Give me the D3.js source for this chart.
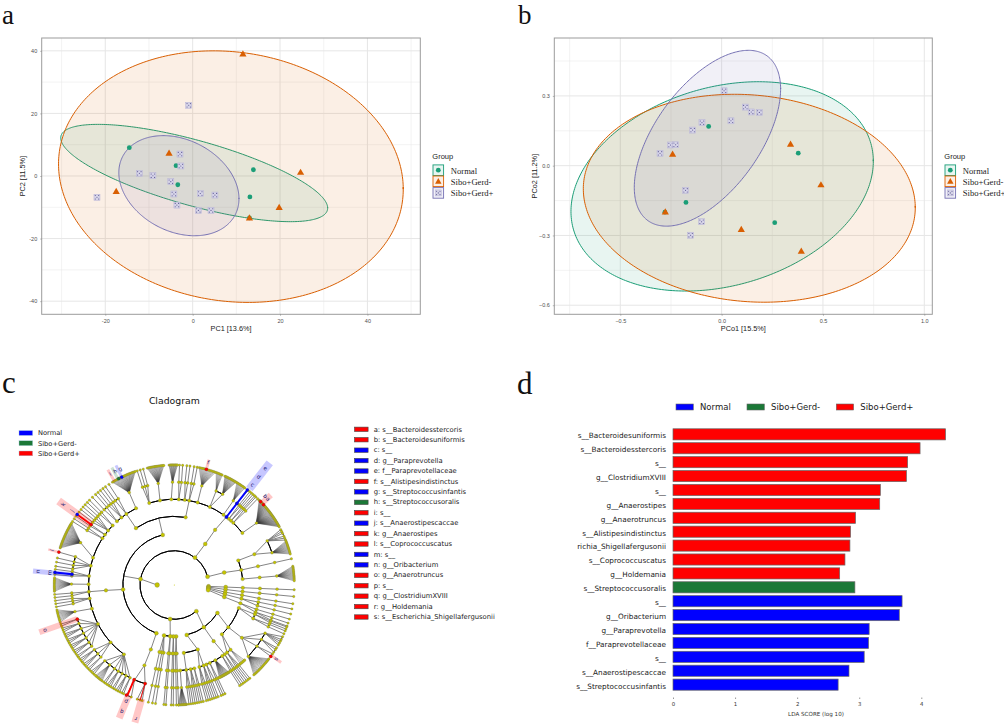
<!DOCTYPE html>
<html><head><meta charset="utf-8">
<script src="https://cdn.jsdelivr.net/npm/d3@7"></script>
<style>html,body{margin:0;padding:0;background:#fff}svg{display:block}</style>
</head><body><svg id="c" width="1004" height="725"></svg>
<script>
// ---------- data: panel a
const groups = ["Normal","Sibo+Gerd-","Sibo+Gerd+"];
const groupColors = ["#1B9E77","#D95F02","#7570B3"];
const aNormal = [[-14.5,9.05],[-3.8,3.3],[-3.4,-2.8],[13.9,2.0],[13.1,-6.7],[13.0,-13.4]];
const aGerdNeg = [[11.5,39],[-5.4,7.3],[-17.5,-4.9],[24.7,1.2],[19.8,-10],[13,-13.4]];
const aGerdPos = [[-0.9,22.6],[-2.9,7.0],[-2.7,3.2],[-12.2,0.85],[-9.1,0.1],[-5,-1.8],[-4.3,-5.75],[1.75,-5.6],[5.1,-6.1],[-3.6,-9.3],[1.3,-11],[4.2,-11],[-21.9,-6.8]];
// ellipses: centre x, centre y, half-width, half-height, correlation
const aEllipses = [[0.35,0.95,30.55,15.55,-0.72],[8.75,-0.2,39.45,40.2,-0.1],[-3.15,-3.1,13.75,16,-0.26]];
const aXDomain = [-34.55,52.1], aYDomain = [-44.2,44.1];
const aXTicks = [-20,0,20,40], aYTicks = [-40,-20,0,20,40];
const aXMinor = [-30,-10,10,30,50], aYMinor = [-30,-10,10,30];
// ---------- data: panel b
const bNormal = [[-0.064,0.169],[0.378,0.054],[-0.176,-0.158],[-0.28,-0.2],[0.262,-0.245]];
const bGerdNeg = [[0.34,0.093],[-0.242,0.05],[0.49,-0.082],[-0.278,-0.199],[0.097,-0.274],[0.393,-0.367]];
const bGerdPos = [[0.012,0.322],[0.117,0.252],[0.146,0.231],[0.186,0.229],[0.046,0.193],[-0.097,0.185],[-0.143,0.153],[-0.252,0.089],[-0.227,0.09],[-0.304,0.053],[-0.178,-0.106],[-0.099,-0.241],[-0.153,-0.299]];
const bEllipses = [[0.0025,-0.089,0.746,0.45,0.24],[0.1365,-0.14,0.819,0.447,-0.09],[-0.07,0.118,0.361,0.378,0.56]];
const bXDomain = [-0.8257,1.0395], bYDomain = [-0.639,0.549];
const bXTicks = [-0.5,0,0.5,1], bYTicks = [-0.6,-0.3,0,0.3];
const bXMinor = [-0.75,-0.25,0.25,0.75], bYMinor = [-0.45,-0.15,0.15,0.45];
// ---------- data: panel c key
const cladeKeys = ["a: s__Bacteroidesstercoris","b: s__Bacteroidesuniformis","c: s__","d: g__Paraprevotella","e: f__Paraprevotellaceae","f: s__Alistipesindistinctus","g: s__Streptococcusinfantis","h: s__Streptococcusoralis","i: s__","j: s__Anaerostipescaccae","k: g__Anaerostipes","l: s__Coprococcuscatus","m: s__","n: g__Oribacterium","o: g__Anaerotruncus","p: s__","q: g__ClostridiumXVIII","r: g__Holdemania","s: s__Escherichia_Shigellafergusonii"];
const cladeKeyGroups = [2,2,0,0,0,2,0,1,2,0,2,2,0,0,2,2,2,2,2];
const ldaColors = ["#0000FF","#1B7837","#FF0000"];
// ---------- data: panel c tree (angles in degrees clockwise from north; a number = chain out to the rim)
const n = (a,...c)=>({a,c}), f = (a0,a1,k)=>({fan:[a0,a1,k]});
const phylumFirmicutes = n(280,
  n(200.4, n(200, n(200.4, n(202.7,201,203.5), n(196.5,195.5,196.5,198)))),
  n(265, n(265.5,
    n(216, n(205.5,205,206), n(208,207,208,209), n(210.5,210,211), n(213,212,213,214), n(215.5,215,216), n(219,f(217,221,8)), n(222.5,222,223,224)),
    n(228, n(225.5,225,226), n(228,227,228,229), n(231,230,231,232)),
    n(243, n(233.5,233,234), n(236,235,236,237), n(239,238,239,240), n(242,241,242,243), n(245,244,245,246), n(248,247,248,249), n(250.6,250,251)),
    n(254, n(255,f(252,258,10))),
    n(261,259.5,261,262.5),
    n(265.5,264,265.5),
    n(270.5, n(270.5,f(267,273.5,12))),
    n(276,275,276,277.5),
    n(283,279,281,283,285.9),
    n(288.6, n(294.3,f(288,301,26))),
    n(303,302,303.5),
    n(306,305,306),
    n(309.5,307.5,309,310.5,312),
    n(314,313.5,315))),
  n(347,
    n(326, n(318,317,319), n(322,320.5,322,323.5), n(326,325,327), n(333.5, n(334,f(329,341,26)))),
    n(369.5,
      n(343,342,343.5,345),
      n(350.4, n(351,f(347,355,18))),
      n(358, n(359,f(357.5,361.5,12))),
      n(363,362.5,364), n(367,366,367.5), n(370,369.5,371),
      n(375.8, n(375.5,f(372,380,14))),
      n(384.5, n(384,f(380.5,383.5,6)), n(388,f(385,391,14))),
      n(395, n(395,f(391.5,396,9))))));
const phylumPrevotella = n(37, n(37, n(36.5,
  n(37.4, n(37.5,38)), n(39.5,39,40), n(41.5,41,42), n(43.5,42.8,44),
  n(52.6, n(53,f(45,61,42))))));
const phylumSide = n(76, n(76,
  n(69, n(69, n(64.6,62.5,63.5,64.5,66,67,68), n(71.7,f(68.5,75,14)))),
  n(77.4,77.4),
  n(85, n(85, n(85,f(81,88,14))))));
const phylumFan = [
  n(92.3,92.3),
  n(93.5, n(95, n(95.5,95.5))),
  n(95, n(98, n(98.5,99))),
  n(96.5, n(100.5, n(101.5, n(101.5,101.5), n(104,104)))),
  n(98.5, n(103.5, n(105.5, n(106.5,106.5), n(108.5,108.5,110))))];
const phylumProteo = n(140,
  n(123,
    n(109.6, n(110,110.5,111.5), n(113,112.5,114)),
    n(128, n(128, n(118,115.5,117,118,119,120), n(122,121.5,122.5,124), n(126.5,125,126.5), n(134,f(128,138.5,18)))),
    n(136, n(139,f(137,140,4)), n(142,141,142,143))),
  n(145, n(145,
    n(144,144,145),
    n(146,146,147),
    n(151.4,f(148,154,14)),
    n(155.5,155,156),
    n(158,157,158.5))),
  n(166,
    n(160, n(160,159.5,160.5,161.5), n(163,162.5,163.5,164.5)),
    n(172, n(166.5,166,167), n(169,168,169,170), n(172,171,172,173), n(176,n(176,f(174,178,12))))));
const phylumLast = n(187, n(178,178,179), n(181,180.5,181.5), n(184.5,184,185), n(191.5,189,190.5,192.5));
const kingdom = n(270, phylumFirmicutes, phylumPrevotella, phylumSide, ...phylumFan, phylumProteo, phylumLast);
const kingdomArcs = [[140,436],[92.3,98.5]];
// biomarkers: [level from, level to, angle, group, width]
const biomarkerLinks = [[5,7,37.5,0,1.9],[6,7,306,2,1.9],[6,7,276,0,1.9],[6,7,203,2,1.9],[6,7,196.5,2,0.9]];
const biomarkerNodes = [[5,37.5,0],[6,37.5,0],[7,37.5,0],[6,306,2],[7,306,0],[6,276,0],[7,276,0],[6,250.6,2],[7,285.9,2],[6,203,2],[7,203.5,2],[6,196.5,2],[7,126.5,2],[7,15.5,2],[7,46,2],[7,48,2],[7,334,0],[7,332.4,1]];
// highlight boxes: angle, r0, r1, width (px), group
const highlights = [[38,122,155,8,0],[306,103,143,8,2],[275.7,102,142,5,0],[250.7,103,143,6,2],[285.8,120,131,2.5,2],[202.5,120,144,7,2],[196,118,143,7,2],[126,120,132,3,2],[15.5,120,130,3,2],[47,120,132,6,2],[334,120,133,3,0],[332,120,133,3,1],[330,120,133,3,2]];
// highlight letters: letter, angle, radius
const highlightLetters = [["e",38,148],["d",38,137],["c",38,127],["k",306,137],["j",306,126],["n",275.7,137],["m",275.7,125],["o",250.7,137],["l",285.8,127],["p",202.5,126],["q",202.5,137],["r",196,139],["s",126,126],["f",15.5,127],["a",47.5,127],["b",45.7,127],["g",335,128],["h",332.5,128],["i",330,128]];
// ---------- data: panel d
const ldaLabels = ["s__Bacteroidesuniformis","s__Bacteroidesstercoris","s__","g__ClostridiumXVIII","s__","g__Anaerostipes","g__Anaerotruncus","s__Alistipesindistinctus","richia_Shigellafergusonii","s__Coprococcuscatus","g__Holdemania","s__Streptococcusoralis","s__","g__Oribacterium","g__Paraprevotella","f__Paraprevotellaceae","s__","s__Anaerostipescaccae","s__Streptococcusinfantis"];
const ldaScores = [4.39,3.98,3.78,3.76,3.34,3.33,2.94,2.86,2.85,2.77,2.685,2.93,3.69,3.645,3.16,3.15,3.08,2.835,2.66];
const ldaGroups = [2,2,2,2,2,2,2,2,2,2,2,1,0,0,0,0,0,0,0];
const ldaTicks = [0,1,2,3,4];

// ---------- drawing
const svg = d3.select("#c");
const SANS = "'Liberation Sans',Arial,sans-serif", SERIF = "'Liberation Serif',serif", DV = "'DejaVu Sans',sans-serif";
const letter=(t,x,y,s)=>svg.append("text").attr("x",x).attr("y",y).attr("font-family",SERIF).attr("font-size",s).attr("fill","#111").text(t);
letter("a",2,24,27); letter("b",518,24,27); letter("c",2,393,31); letter("d",517,394,31);

function ordination(o){
  const g = svg.append("g");
  const x = d3.scaleLinear(o.xd,[o.l,o.r]), y = d3.scaleLinear(o.yd,[o.b,o.t]);
  const grid=(vals,w,vert)=>g.selectAll(null).data(vals).join("line")
    .attr("x1",d=>vert?x(d):o.l).attr("x2",d=>vert?x(d):o.r).attr("y1",d=>vert?o.t:y(d)).attr("y2",d=>vert?o.b:y(d))
    .attr("stroke","#E6E6E6").attr("stroke-width",w);
  grid(o.xm,0.5,true); grid(o.ym,0.5,false); grid(o.xt,1,true); grid(o.yt,1,false);
  const ell=(e)=>{const [cx,cy,A,B,r]=e, s=Math.sqrt(1-r*r);
    return d3.line().x(t=>x(cx+A*Math.cos(t))).y(t=>y(cy+B*(r*Math.cos(t)+s*Math.sin(t))))(d3.range(0,Math.PI*2+0.02,0.02))+"Z";};
  o.ell.forEach((e,i)=>g.append("path").attr("d",ell(e)).attr("fill",groupColors[i]).attr("fill-opacity",0.1).attr("stroke",groupColors[i]).attr("stroke-width",1));
  const dots=[[-1.7,-1.7],[1.7,-1.7],[0,0],[-1.7,1.7],[1.7,1.7]];
  const mark=(sel,i,k)=>{
    if(i===0) sel.append("circle").attr("r",2.4).attr("fill",groupColors[0]);
    if(i===1) sel.append("path").attr("d",`M0,${-3.6*k}L${3.6*k},${2.6*k}L${-3.6*k},${2.6*k}Z`).attr("fill",groupColors[1]);
    if(i===2){sel.append("rect").attr("x",-3).attr("y",-3).attr("width",6).attr("height",6).attr("fill","#d6d4e8").attr("stroke","#b5b2d6").attr("stroke-width",0.5);
      sel.selectAll(null).data(dots).join("circle").attr("cx",d=>d[0]).attr("cy",d=>d[1]).attr("r",0.55).attr("fill","#5a558f");}
  };
  o.pts.forEach((arr,i)=>arr.forEach(p=>{mark(g.append("g").attr("transform",`translate(${x(p[0])},${y(p[1])})`),i,1);}));
  g.append("rect").attr("x",o.l).attr("y",o.t).attr("width",o.r-o.l).attr("height",o.b-o.t).attr("fill","none").attr("stroke","#9c9c9c").attr("stroke-width",1);
  const axX=d3.axisBottom(x).tickValues(o.xt).tickSize(1.5).tickFormat(o.fmt);
  const axY=d3.axisLeft(y).tickValues(o.yt).tickSize(1.5).tickFormat(o.fmt);
  [g.append("g").attr("transform",`translate(0,${o.b})`).call(axX),g.append("g").attr("transform",`translate(${o.l},0)`).call(axY)].forEach(a=>{
    a.select(".domain").remove(); a.selectAll("line").attr("stroke","#777").attr("stroke-width",0.5);
    a.selectAll("text").attr("font-family",SANS).attr("font-size",5.5).attr("fill","#4D4D4D");});
  g.append("text").attr("x",(o.l+o.r)/2).attr("y",o.b+17).attr("text-anchor","middle").attr("font-family",SANS).attr("font-size",7.3).attr("fill","#222").text(o.xl);
  g.append("text").attr("transform",`translate(${o.l-17},${(o.t+o.b)/2}) rotate(-90)`).attr("text-anchor","middle").attr("font-family",SANS).attr("font-size",7.3).attr("fill","#222").text(o.yl);
  const lx=o.r+12.5;
  g.append("text").attr("x",lx-0.5).attr("y",159.3).attr("font-family",SANS).attr("font-size",7.5).attr("fill","#222").text("Group");
  groups.forEach((nm,i)=>{
    const yy=170.2+i*11.6-(i?0.5:0);
    const k=g.append("g").attr("transform",`translate(${lx+5.5},${yy})`);
    k.append("rect").attr("x",-5.3).attr("y",-5.3).attr("width",10.6).attr("height",10.6).attr("fill",groupColors[i]).attr("fill-opacity",0.1).attr("stroke",groupColors[i]).attr("stroke-width",0.9);
    mark(k,i,0.9);
    g.append("text").attr("x",lx+18).attr("y",yy+3.5).attr("font-family",SERIF).attr("font-size",8.6).attr("fill","#222").text(nm);
  });
}
const fmt1=d=>d3.format(".1f")(d);
ordination({l:41.7,r:420.3,t:38,b:314.3,xd:aXDomain,yd:aYDomain,xt:aXTicks,yt:aYTicks,xm:aXMinor,ym:aYMinor,ell:aEllipses,pts:[aNormal,aGerdNeg,aGerdPos],fmt:d=>String(d),xl:"PC1 [13.6%]",yl:"PC2 [11.5%]"});
ordination({l:554.3,r:932.3,t:38,b:314.3,xd:bXDomain,yd:bYDomain,xt:bXTicks,yt:bYTicks,xm:bXMinor,ym:bYMinor,ell:bEllipses,pts:[bNormal,bGerdNeg,bGerdPos],fmt:fmt1,xl:"PCo1 [15.5%]",yl:"PCo2 [11.2%]"});

// ---------- panel c
const cg = svg.append("g").attr("transform","translate(174.3,585)");
const radius = d3.scaleLinear([0,7],[0,120]);
const nodeR = d3.scaleOrdinal([1,2,3,4,5,6,7],[2.4,2.1,2,1.8,1.7,1.45,1.2]);
const pt=(a,l)=>d3.pointRadial(a*Math.PI/180,radius(l));
function expand(nd,level){
  if(typeof nd==="number"){ return level>=7?{a:nd,level,children:[]}:{a:nd,level,children:[expand(nd,level+1)]}; }
  const kids=[];
  nd.c.forEach(c=>{
    if(c.fan){const s=d3.scaleLinear([0,c.fan[2]-1],[c.fan[0],c.fan[1]]); d3.range(c.fan[2]).forEach(i=>kids.push({a:s(i),level:level+1,children:[],fanLeaf:true}));}
    else kids.push(expand(c,level+1));
  });
  return {a:nd.a,level,children:kids};
}
const root=d3.hierarchy(expand(kingdom,1));
const nodes=root.descendants();
const linkG=cg.append("g");
const seg=(a0,l0,a1,l1,col,w)=>{const p=pt(a0,l0),q=pt(a1,l1);linkG.append("line").attr("x1",p[0]).attr("y1",p[1]).attr("x2",q[0]).attr("y2",q[1]).attr("stroke",col).attr("stroke-width",w);};
nodes.filter(d=>d.children).forEach(d=>{
  const L=d.data.level, kids=d.children, as=kids.map(c=>c.data.a), span=d3.max(as)-d3.min(as);
  const limit=L>=6?1e9:(L===5?25:8);
  if(span<=limit){ kids.forEach(c=>seg(d.data.a,L,c.data.a,L+1,c.data.fanLeaf?"#3c3c3c":"#6e6e6e",c.data.fanLeaf?0.42:0.85)); }
  else {
    const near=kids.slice().sort((u,v)=>Math.abs(u.data.a-d.data.a)-Math.abs(v.data.a-d.data.a))[0].data.a;
    seg(d.data.a,L,Math.abs(near-d.data.a)<=12?near:d.data.a,L+1,"#6e6e6e",0.85);
  }
});
const arcGen=d3.arc();
function arcPath(l,a0,a1){const r=radius(l);return arcGen({innerRadius:r,outerRadius:r,startAngle:a0*Math.PI/180,endAngle:a1*Math.PI/180});}
nodes.filter(d=>d.children&&d.children.length>1&&d.depth>0&&!d.children[0].data.fanLeaf).forEach(d=>{
  const as=d.children.map(c=>c.data.a);
  cg.append("path").attr("d",arcPath(d.data.level+1,d3.min(as),d3.max(as))).attr("fill","none").attr("stroke","#000").attr("stroke-width",d.data.level>=6?0.6:1);
});
kingdomArcs.forEach(r=>cg.append("path").attr("d",arcPath(2,r[0],r[1])).attr("fill","none").attr("stroke","#000").attr("stroke-width",1));
cg.selectAll(null).data(nodes).join("circle")
  .attr("cx",d=>pt(d.data.a,d.data.level)[0]).attr("cy",d=>pt(d.data.a,d.data.level)[1])
  .attr("r",d=>nodeR(d.data.level)).attr("fill","#c4c400").attr("stroke","#666").attr("stroke-width",0.25);
cg.append("circle").attr("r",0.5).attr("fill","#c4c400");
const hl=cg.append("g");
highlights.forEach(h=>hl.append("rect").attr("transform",`rotate(${h[0]})`).attr("x",-h[3]/2).attr("width",h[3]).attr("y",-h[2]).attr("height",h[2]-h[1]).attr("fill",ldaColors[h[4]]).attr("fill-opacity",0.22));
biomarkerLinks.forEach(b=>{const p=pt(b[2],b[0]),q=pt(b[2],b[1]);cg.append("line").attr("x1",p[0]).attr("y1",p[1]).attr("x2",q[0]).attr("y2",q[1]).attr("stroke",ldaColors[b[3]]).attr("stroke-width",b[4]);});
biomarkerNodes.forEach(b=>{const p=pt(b[1],b[0]);cg.append("circle").attr("cx",p[0]).attr("cy",p[1]).attr("r",b[0]==5?1.7:1.6).attr("fill",ldaColors[b[2]]).attr("stroke","#333").attr("stroke-width",0.2);});
highlightLetters.forEach(t=>{const p=d3.pointRadial(t[1]*Math.PI/180,t[2]);
  cg.append("text").attr("transform",`translate(${p[0]},${p[1]}) rotate(${t[1]})`).attr("text-anchor","middle").attr("dy","0.3em").attr("font-family",DV).attr("font-size",5.5).attr("fill","#10106e").text(t[0]);});

svg.append("text").attr("x",174.3).attr("y",403.5).attr("text-anchor","middle").attr("font-family",DV).attr("font-size",9.3).attr("fill","#111").text("Cladogram");
groups.forEach((nm,i)=>{const y=433+i*10.2;
  svg.append("rect").attr("x",19).attr("y",y-2.4).attr("width",13.6).attr("height",4.8).attr("fill",ldaColors[i]).attr("stroke","#9fc6d8").attr("stroke-width",0.4);
  svg.append("text").attr("x",38).attr("y",y+2.3).attr("font-family",DV).attr("font-size",6.7).attr("fill","#222").text(nm);});
const keyY=d3.scaleLinear([0,18],[429.3,617]);
cladeKeys.forEach((t,i)=>{
  svg.append("rect").attr("x",354.5).attr("y",keyY(i)-2.2).attr("width",13.6).attr("height",4.4).attr("fill",ldaColors[cladeKeyGroups[i]]).attr("stroke","#444").attr("stroke-width",0.6);
  svg.append("text").attr("x",373.7).attr("y",keyY(i)+2.2).attr("font-family",DV).attr("font-size",6.8).attr("fill","#222").text(t);});

// ---------- panel d
const lx=d3.scaleLinear([0,4],[673,921.3]);
const ly=d3.scaleBand(d3.range(ldaScores.length),[427.4,691.6]).paddingInner(0.2).paddingOuter(0.1);
const dg=svg.append("g");
dg.selectAll(null).data(ldaScores).join("rect").attr("x",lx(0)).attr("y",(d,i)=>ly(i)).attr("width",d=>lx(d)-lx(0)).attr("height",ly.bandwidth())
  .attr("fill",(d,i)=>ldaColors[ldaGroups[i]]).attr("stroke","#666").attr("stroke-width",0.7);
dg.selectAll(null).data(ldaLabels).join("text").attr("x",666).attr("y",(d,i)=>ly(i)+ly.bandwidth()/2+3.9).attr("text-anchor","end").attr("font-family",DV).attr("font-size",7.3).attr("fill","#222").text(d=>d);
const ax=dg.append("g").attr("transform","translate(0,697.5)").call(d3.axisBottom(lx).tickValues(ldaTicks).tickSize(1.5).tickFormat(d3.format("d")));
ax.select(".domain").remove(); ax.selectAll("line").attr("stroke","#333").attr("stroke-width",0.5);
ax.selectAll("text").attr("font-family",DV).attr("font-size",5.4).attr("fill","#333");
dg.append("text").attr("x",816).attr("y",715.5).attr("text-anchor","middle").attr("font-family",DV).attr("font-size",5.6).attr("fill","#333").text("LDA SCORE (log 10)");
const legX=[676,747,836.3];
groups.forEach((nm,i)=>{
  dg.append("rect").attr("x",legX[i]).attr("y",404).attr("width",17.3).attr("height",6).attr("fill",ldaColors[i]).attr("stroke","#666").attr("stroke-width",0.6);
  dg.append("text").attr("x",legX[i]+24).attr("y",410).attr("font-family",DV).attr("font-size",8.5).attr("fill","#222").text(nm);});
</script></body></html>
